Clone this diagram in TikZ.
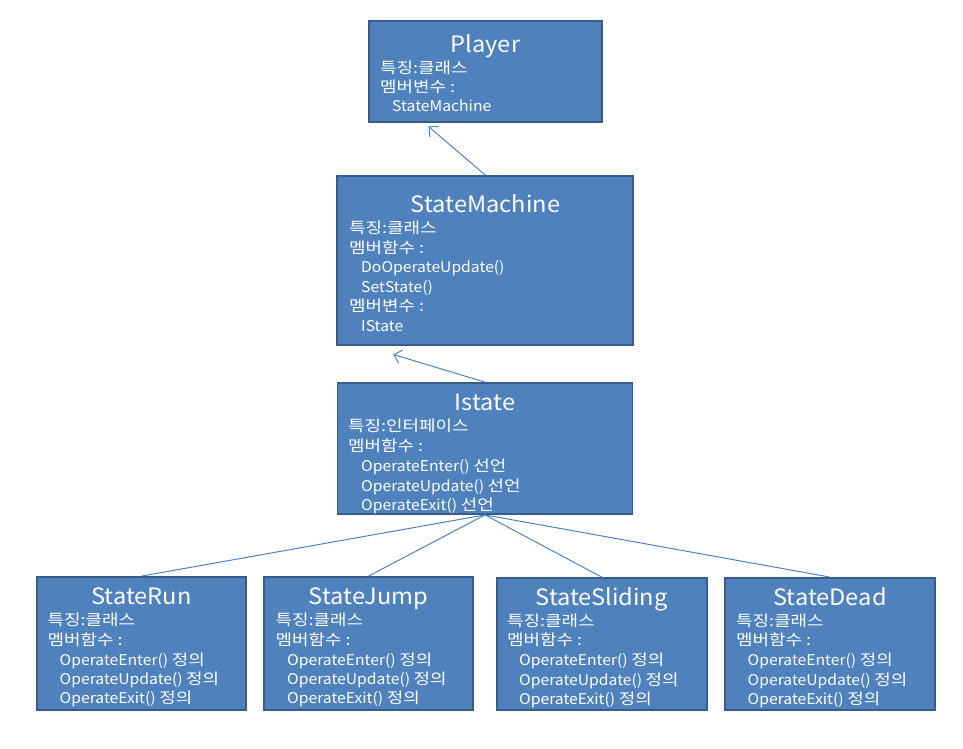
\documentclass[tikz,border=0pt]{standalone}
\usepackage{fontspec}
\setmainfont{Noto Sans CJK KR}
\newfontfamily\bodyfont[FakeStretch=1.06]{Noto Sans CJK KR}
\newfontfamily\krfont[FakeStretch=1.18]{Noto Sans CJK KR}
\newfontfamily\headfont[FakeStretch=1.05]{Noto Sans CJK KR}
\newcommand\kr[1]{{\fontsize{15.2}{16}\krfont #1}}
\usetikzlibrary{arrows.meta}
\definecolor{boxfill}{HTML}{4F81BD}
\definecolor{boxline}{HTML}{385D8A}
\tikzset{
  cls/.style={draw=boxline, fill=boxfill, line width=1.8pt, inner sep=0pt, rectangle},
  ttl/.style={text=white, font=\headfont\fontsize{22.5}{24}\selectfont, anchor=base, inner sep=0pt},
  txt/.style={text=white, font=\bodyfont\fontsize{14.8}{16}\selectfont, anchor=base west, inner sep=0pt},
  link/.style={draw=boxfill, line width=1pt},
  arr/.style={link, -{Straight Barb[length=7pt,width=14pt,line width=1pt]}}
}
\begin{document}
\begin{tikzpicture}[x=1pt,y=-1pt]
\useasboundingbox (0,0) rectangle (963,749);
% boxes
\node[cls, minimum width=233pt, minimum height=101pt] (player) at (485.5,71.5) {};
\node[cls, minimum width=296pt, minimum height=169pt] (sm) at (485.3,260.5) {};
\node[cls, minimum width=295pt, minimum height=131pt] (ist) at (485,448.5) {};
\node[cls, minimum width=209pt, minimum height=133pt] (run) at (141.5,643.5) {};
\node[cls, minimum width=209pt, minimum height=133pt] (jump) at (368.5,643.5) {};
\node[cls, minimum width=210pt, minimum height=132pt] (slide) at (601.7,644) {};
\node[cls, minimum width=210pt, minimum height=132pt] (dead) at (830,644) {};
% Player text
\node[ttl] (pt) at (485.5,53) {Player};
\node[txt] (p1) at (380,74) {\kr{특징:클래스}};
\node[txt] (p2) at (380,93) {\kr{멤버변수 :}};
\node[txt] (p3) at (392,112) {StateMachine};
% StateMachine text
\node[ttl] (smt) at (485.5,212) {StateMachine};
\node[txt] (s1) at (349,233) {\kr{특징:클래스}};
\node[txt] (s2) at (349,253) {\kr{멤버함수 :}};
\node[txt] (s3) at (361,272.5) {DoOperateUpdate()};
\node[txt] (s4) at (361,292) {SetState()};
\node[txt] (s5) at (349,311.5) {\kr{멤버변수 :}};
\node[txt] (s6) at (361,331) {IState};
% Istate text
\node[ttl] (it) at (485,410.5) {Istate};
\node[txt] (i1) at (348,431.5) {\kr{특징:인터페이스}};
\node[txt] (i2) at (348,451.5) {\kr{멤버함수 :}};
\node[txt] (i3) at (361,471.5) {OperateEnter() \kr{선언}};
\node[txt] (i4) at (361,491.5) {OperateUpdate() \kr{선언}};
\node[txt] (i5) at (361,510.5) {OperateExit() \kr{선언}};
% StateRun
\node[ttl] (rt) at (141.5,604) {StateRun};
\node[txt] (r1) at (47.5,625) {\kr{특징:클래스}};
\node[txt] (r2) at (47.5,645) {\kr{멤버함수 :}};
\node[txt] (r3) at (59.5,665) {OperateEnter() \kr{정의}};
\node[txt] (r4) at (59.5,684.5) {OperateUpdate() \kr{정의}};
\node[txt] (r5) at (59.5,703.5) {OperateExit() \kr{정의}};
% StateJump
\node[ttl] (jt) at (368.5,604) {StateJump};
\node[txt] (j1) at (275.5,625) {\kr{특징:클래스}};
\node[txt] (j2) at (275.5,645) {\kr{멤버함수 :}};
\node[txt] (j3) at (287,665) {OperateEnter() \kr{정의}};
\node[txt] (j4) at (287,684.5) {OperateUpdate() \kr{정의}};
\node[txt] (j5) at (287,703.5) {OperateExit() \kr{정의}};
% StateSliding
\node[ttl] (lt) at (601.7,605) {StateSliding};
\node[txt] (l1) at (507,626) {\kr{특징:클래스}};
\node[txt] (l2) at (507,645.5) {\kr{멤버함수 :}};
\node[txt] (l3) at (519,665.5) {OperateEnter() \kr{정의}};
\node[txt] (l4) at (519,685) {OperateUpdate() \kr{정의}};
\node[txt] (l5) at (519,704) {OperateExit() \kr{정의}};
% StateDead
\node[ttl] (dt) at (830,605) {StateDead};
\node[txt] (d1) at (736,626) {\kr{특징:클래스}};
\node[txt] (d2) at (736,645.5) {\kr{멤버함수 :}};
\node[txt] (d3) at (747.5,665.5) {OperateEnter() \kr{정의}};
\node[txt] (d4) at (747.5,685) {OperateUpdate() \kr{정의}};
\node[txt] (d5) at (747.5,704) {OperateExit() \kr{정의}};
% connectors
\coordinate (pa) at (428.5,126.5);
\coordinate (sa) at (393.3,354.5);
\draw[arr] (sm.north) -- (pa);
\draw[arr] (ist.north) -- (sa);
\draw[link] (ist.south) -- (run.north);
\draw[link] (ist.south) -- (jump.north);
\draw[link] (ist.south) -- (slide.north);
\draw[link] (ist.south) -- (dead.north);
\end{tikzpicture}
\end{document}
